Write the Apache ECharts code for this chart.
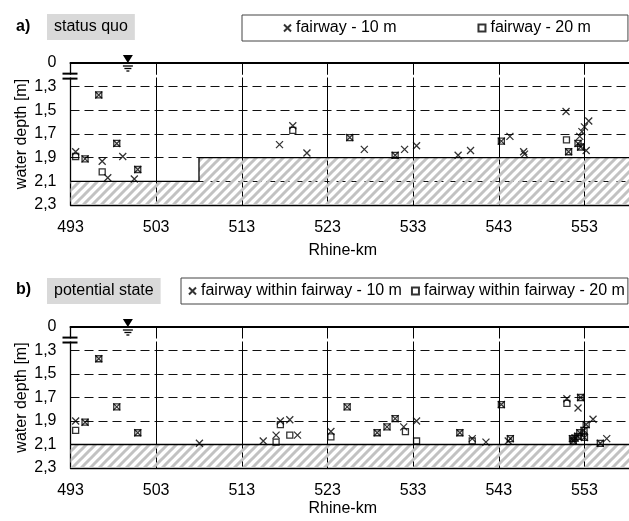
<!DOCTYPE html>
<html>
<head>
<meta charset="utf-8">
<script src="https://cdn.jsdelivr.net/npm/echarts@6/dist/echarts.min.js"></script>
<style>html,body{margin:0;padding:0;background:#fff}#c{width:629px;height:521px}</style>
</head>
<body>
<div id="c"></div>
<script>
// ---- Data (Rhine-km, water depth in m) ----
// Panel a) status quo
const kmTenA = [496.3,493.6,494.7,498.4,499.1,496.7,497.35,500.85,500.45,518.95,517.4,520.6,525.6,527.3,530.9,532.0,533.4,538.25,539.7,543.3,544.3,545.9,546.0,550.85,551.15,553.5,553.0,552.7,552.45,552.25,552.55,553.2];
const depthTenA = [1.37,1.85,1.91,1.78,1.89,1.93,2.07,2.00,2.08,1.63,1.79,1.86,1.73,1.83,1.88,1.83,1.80,1.88,1.84,1.76,1.72,1.85,1.87,1.51,1.85,1.59,1.64,1.68,1.72,1.78,1.81,1.84];
const kmTwentyA = [496.3,493.6,494.7,498.4,496.7,500.85,518.95,525.6,530.9,543.3,550.9,551.15,552.25,552.55];
const depthTwentyA = [1.37,1.89,1.91,1.78,2.02,2.00,1.67,1.73,1.88,1.76,1.75,1.85,1.78,1.81];
const bedKmA = [493, 508, 508, 558.2];
const bedDepthA = [2.1, 2.1, 1.9, 1.9];

// Panel b) potential state
const kmTenB = [496.3,498.4,493.6,494.7,500.85,508.05,515.5,517.0,517.5,518.6,519.5,523.4,525.3,528.8,529.95,530.9,531.9,533.4,538.45,539.9,541.5,543.3,544.35,544.1,550.95,552.55,552.25,554.0,553.2,552.95,552.45,552.2,551.9,551.6,551.7,553.0,554.85,555.6];
const depthTenB = [1.37,1.78,1.90,1.91,2.00,2.09,2.07,2.02,1.90,1.89,2.02,1.99,1.78,2.00,1.95,1.88,1.95,1.90,2.00,2.05,2.08,1.76,2.05,2.07,1.71,1.70,1.79,1.885,1.93,1.98,2.00,2.03,2.045,2.05,2.07,2.04,2.09,2.05];
const kmTwentyB = [496.3,498.4,493.6,494.7,500.85,517.0,517.5,518.6,523.4,525.3,528.8,529.95,530.9,532.1,533.4,538.45,539.9,543.3,544.35,550.95,552.55,553.2,552.95,552.45,552.2,551.9,551.6,551.7,553.0,554.85];
const depthTwentyB = [1.37,1.78,1.98,1.91,2.00,2.08,1.93,2.02,2.035,1.78,2.00,1.95,1.88,1.99,2.07,2.00,2.07,1.76,2.05,1.75,1.70,1.93,1.98,2.00,2.03,2.045,2.05,2.07,2.04,2.09];
const bedKmB = [493, 558.2];
const bedDepthB = [2.1, 2.1];

const seriesNamesA = ['fairway - 10 m', 'fairway - 20 m'];
const seriesNamesB = ['fairway within fairway - 10 m', 'fairway within fairway - 20 m'];
const panelTags = ['a)', 'b)'];
const panelTitles = ['status quo', 'potential state'];

// Axis reference values (axis break: "0" is drawn one step above 1,3)
const KM0 = 493, KM_SPAN = 65.2, KM_STEP = 10;
const D0 = 1.1, D_SPAN = 1.2, D_STEP = 0.2;
const waterKm = 499.7;

// ---- helpers ----
const pairs = (km, d) => km.map((k, i) => [k - KM0, +(d[i] - D0).toFixed(4)]);

function hatch() {
  const s = 9, c = document.createElement('canvas');
  c.width = s; c.height = s;
  const g = c.getContext('2d');
  g.strokeStyle = '#c2c2c2'; g.lineWidth = 3;
  g.beginPath();
  g.moveTo(0, s); g.lineTo(s, 0);
  g.moveTo(-s / 4, s / 4); g.lineTo(s / 4, -s / 4);
  g.moveTo(3 * s / 4, 5 * s / 4); g.lineTo(5 * s / 4, 3 * s / 4);
  g.stroke();
  return c;
}
const hatchPattern = { image: hatch(), repeat: 'repeat' };

const FONT = 'Liberation Sans, Arial, sans-serif';
const crossPath = 'path://M0,0L10,10M10,0L0,10';

const grids = [
  { left: 70.5, top: 63, width: 560.7, height: 142 },
  { left: 70.5, top: 327, width: 560.7, height: 141 }
];

function xAxes(gi, nameGap) {
  return [
    {
      type: 'value', gridIndex: gi, min: 0, max: KM_SPAN, interval: KM_STEP,
      name: 'Rhine-km', nameLocation: 'middle', nameGap: nameGap, nameMoveOverlap: false,
      nameTextStyle: { fontSize: 16, color: '#000', fontFamily: FONT, padding: [0, 14, 0, 0] },
      axisLine: { show: true, onZero: false, lineStyle: { color: '#000', width: 1.3 } },
      axisTick: { show: false },
      axisLabel: { fontSize: 16, color: '#000', fontFamily: FONT, margin: 15, showMaxLabel: false,
        formatter: v => String(Math.round(v + KM0)) },
      splitLine: { show: true, lineStyle: { color: '#000', width: 1, type: 'solid' } }
    },
    {
      type: 'value', gridIndex: gi, position: 'top', min: 0, max: KM_SPAN, interval: KM_STEP,
      axisLine: { show: true, onZero: false, lineStyle: { color: '#000', width: 2 } },
      axisTick: { show: false }, axisLabel: { show: false }, splitLine: { show: false }
    }
  ];
}
function yAxis(gi) {
  return {
    type: 'value', gridIndex: gi, inverse: true, min: 0, max: D_SPAN, interval: D_STEP,
    name: 'water depth [m]', nameLocation: 'middle', nameGap: 41, nameRotate: 90, nameMoveOverlap: false,
    nameTextStyle: { fontSize: 16, color: '#000', fontFamily: FONT },
    axisLine: { show: true, onZero: false, lineStyle: { color: '#000', width: 1.3 } },
    axisTick: { show: false },
    axisLabel: { fontSize: 16, color: '#000', fontFamily: FONT, margin: 14,
      formatter: v => v < 0.01 ? '0' : (v + D0).toFixed(1).replace('.', ',') },
    splitLine: { show: true, lineStyle: { color: '#111', width: 1.1, type: [9, 5] } }
  };
}
function panelSeries(gi, names, tenKm, tenD, twKm, twD, bedKm, bedD) {
  return [
    {
      type: 'line', xAxisIndex: gi * 2, yAxisIndex: gi, data: pairs(bedKm, bedD),
      showSymbol: false, silent: true, z: 1,
      lineStyle: { color: '#000', width: 1.3 },
      areaStyle: { color: hatchPattern, origin: 'end', opacity: 1 }
    },
    {
      name: names[1], type: 'scatter', xAxisIndex: gi * 2, yAxisIndex: gi,
      data: pairs(twKm, twD), symbol: 'rect', symbolSize: 6, z: 3,
      itemStyle: { color: 'rgba(0,0,0,0)', borderColor: '#000', borderWidth: 1.3 }
    },
    {
      name: names[0], type: 'scatter', xAxisIndex: gi * 2, yAxisIndex: gi,
      data: pairs(tenKm, tenD), symbol: crossPath, symbolSize: 7, z: 4,
      itemStyle: { color: 'rgba(0,0,0,0)', borderColor: '#000', borderWidth: 1.3 }
    }
  ];
}

const legendBase = {
  orient: 'horizontal', itemWidth: 7, itemHeight: 7, borderColor: '#444', borderWidth: 1,
  textStyle: { fontSize: 16, color: '#000', fontFamily: FONT }, selectedMode: false
};

const option = {
  animation: false,
  backgroundColor: '#fff',
  textStyle: { fontFamily: FONT },
  grid: grids,
  xAxis: [...xAxes(0, 38), ...xAxes(1, 33)],
  yAxis: [yAxis(0), yAxis(1)],
  title: [
    { text: panelTags[0], left: 16, top: 19, padding: 0, textStyle: { fontSize: 16, fontWeight: 'bold', color: '#000', fontFamily: FONT } },
    { text: panelTitles[0], left: 47, top: 14, padding: [5, 7, 5, 7], backgroundColor: '#d9d9d9', textStyle: { fontSize: 16, fontWeight: 'normal', color: '#000', fontFamily: FONT } },
    { text: panelTags[1], left: 16, top: 282, padding: 0, textStyle: { fontSize: 16, fontWeight: 'bold', color: '#000', fontFamily: FONT } },
    { text: panelTitles[1], left: 47, top: 278, padding: [5, 7, 5, 7], backgroundColor: '#d9d9d9', textStyle: { fontSize: 16, fontWeight: 'normal', color: '#000', fontFamily: FONT } }
  ],
  legend: [
    Object.assign({}, legendBase, { data: seriesNamesA, left: 242, top: 15, padding: [5, 37, 5, 41], itemGap: 81 }),
    Object.assign({}, legendBase, { data: seriesNamesB, left: 181, top: 278, padding: [5, 3, 5, 7], itemGap: 9 })
  ],
  series: [
    ...panelSeries(0, seriesNamesA, kmTenA, depthTenA, kmTwentyA, depthTwentyA, bedKmA, bedDepthA),
    ...panelSeries(1, seriesNamesB, kmTenB, depthTenB, kmTwentyB, depthTwentyB, bedKmB, bedDepthB)
  ]
};

const chart = echarts.init(document.getElementById('c'), null, { renderer: 'canvas' });
chart.setOption(option);

// Decorations: axis break and water-level symbol, positioned through the axes
const graphics = [];
[0, 1].forEach(gi => {
  const conv = (x, y) => chart.convertToPixel({ xAxisIndex: gi * 2, yAxisIndex: gi }, [x, y]);
  const [ax, y1] = conv(0, 0.09);
  const [, y2] = conv(0, 0.132);
  const [rx] = conv(KM_SPAN, 0);
  graphics.push({ type: 'rect', z: 100, silent: true, shape: { x: ax - 2, y: y1 + 1, width: rx - ax + 4, height: y2 - y1 - 2 }, style: { fill: '#fff' } });
  graphics.push({ type: 'line', z: 101, silent: true, shape: { x1: ax - 8, y1: y1, x2: ax + 7, y2: y1 }, style: { stroke: '#000', lineWidth: 2 } });
  graphics.push({ type: 'line', z: 101, silent: true, shape: { x1: ax - 8, y1: y2, x2: ax + 7, y2: y2 }, style: { stroke: '#000', lineWidth: 2 } });
  const [cx, cy] = conv(waterKm - KM0, 0);
  graphics.push({ type: 'polygon', z: 101, silent: true, shape: { points: [[cx - 5, cy - 8], [cx + 5, cy - 8], [cx, cy]] }, style: { fill: '#000' } });
  [[3, 5], [5.5, 3.5], [8, 1.5]].forEach(([dy, hw]) => {
    graphics.push({ type: 'line', z: 101, silent: true, shape: { x1: cx - hw, y1: cy + dy, x2: cx + hw, y2: cy + dy }, style: { stroke: '#000', lineWidth: 1.3 } });
  });
});
chart.setOption({ graphic: graphics });
</script>
</body>
</html>
